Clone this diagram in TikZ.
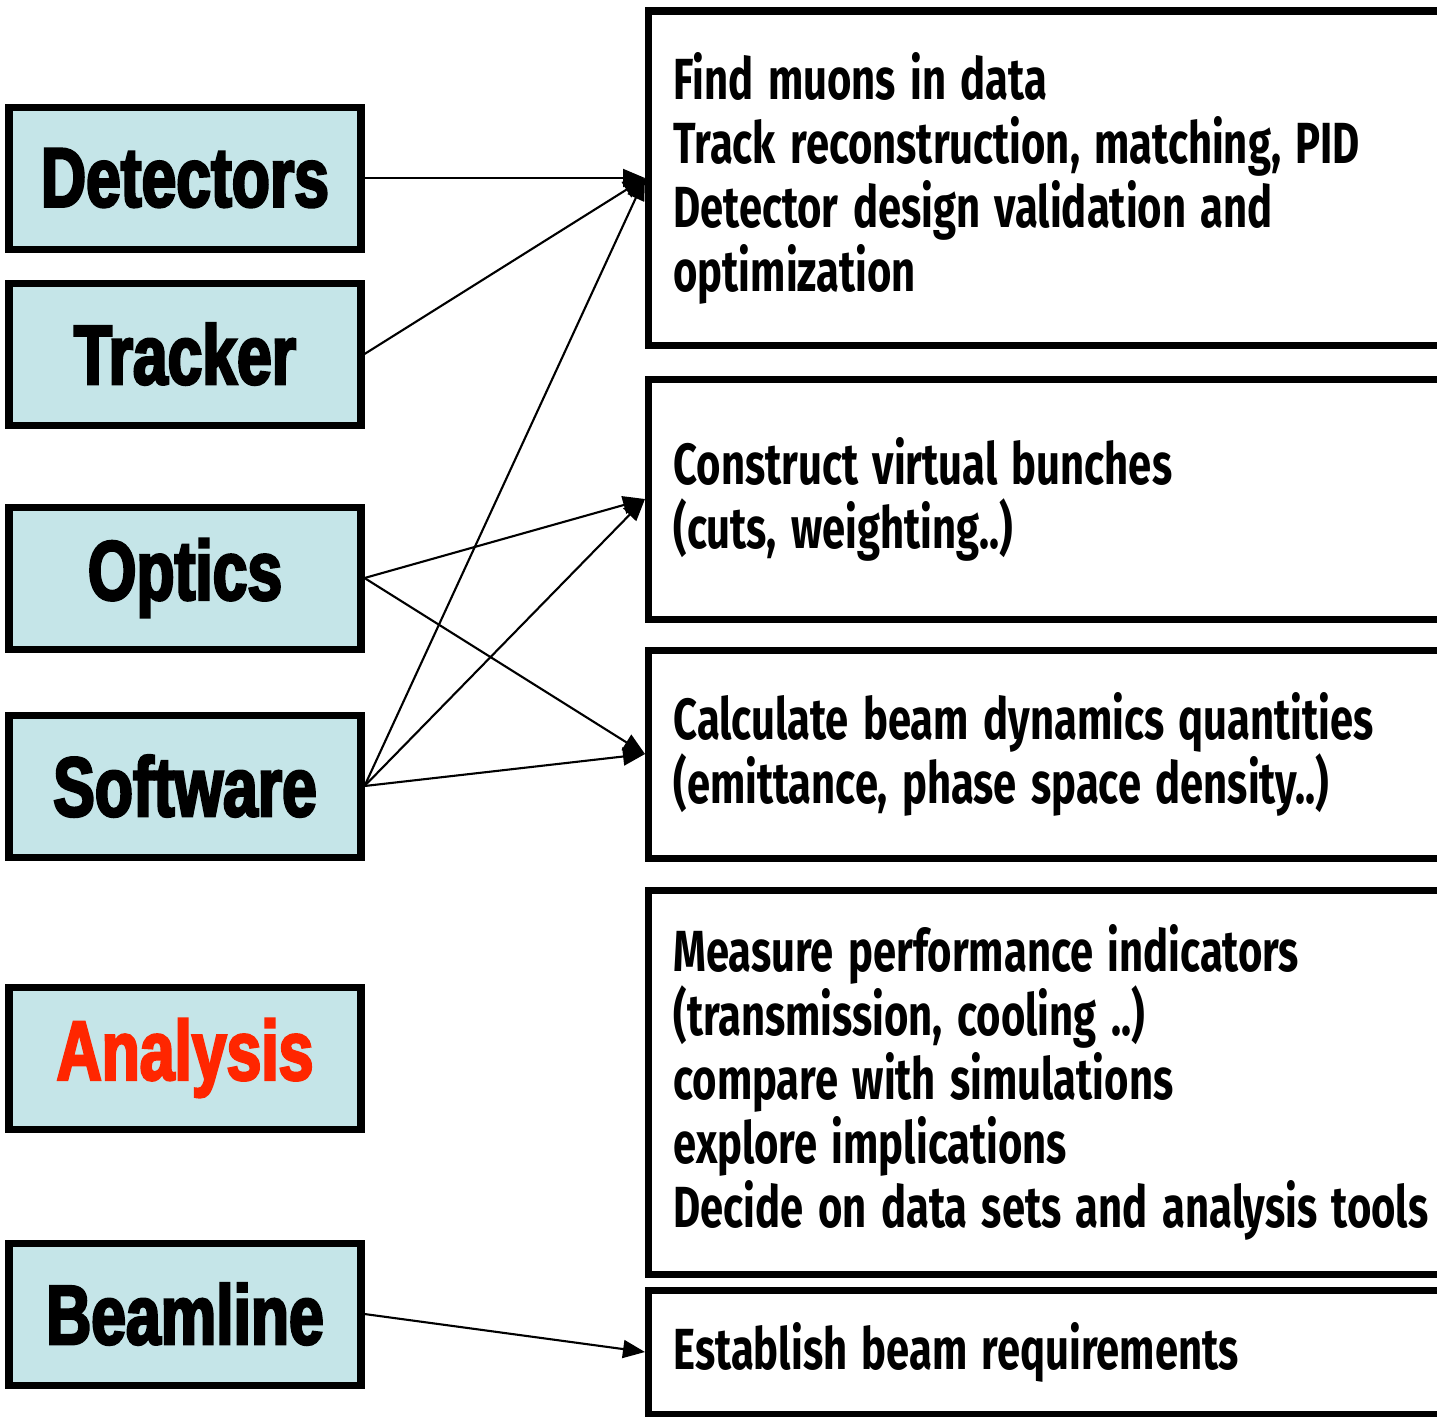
\documentclass[tikz,border=0pt]{standalone}
\usepackage{fontspec}
\usepackage{tikz}
\usetikzlibrary{positioning,arrows.meta}

\newfontfamily\labelfont[FakeStretch=0.74,FakeBold=3]{Liberation Sans}
\newfontfamily\notefont[FakeStretch=0.72]{Fira Sans}
\newcommand\tightspace{\spaceskip=0.25em plus 0.05em\relax}
\definecolor{boxcyan}{RGB}{197,229,232}
\definecolor{hotred}{RGB}{255,38,0}

\begin{document}
\begin{tikzpicture}[-{Triangle[length=0.22cm,width=0.18cm]},line width=0.6pt]
  \tikzstyle{topic}=[draw=black,line width=2pt,fill=boxcyan,minimum width=3.52cm,
                     minimum height=1.42cm,font=\labelfont\bfseries\fontsize{24}{28}\selectfont]
  \tikzstyle{task}=[draw=black,line width=2pt,text width=10cm,inner xsep=0.25cm,
                    align=left,anchor=west,font=\notefont\bfseries\fontsize{16.5}{18.2}\selectfont,
                    execute at begin node=\tightspace]

  \useasboundingbox (0,0) rectangle (14.37,-14.16);

  % topics on the left
  \node[topic] (det) at (1.85,-1.78)  {Detectors};
  \node[topic] (trk) at (1.85,-3.54)  {Tracker};
  \node[topic] (opt) at (1.85,-5.78)  {Optics};
  \node[topic] (sw)  at (1.85,-7.86)  {Software};
  \node[topic,text=hotred] (ana) at (1.85,-10.58) {Analysis};
  \node[topic] (bl)  at (1.85,-13.14) {Beamline};

  % tasks on the right
  \node[task,minimum height=3.34cm] (find)  at (6.45,-1.78)
    {Find muons in data\\Track reconstruction, matching, PID\\Detector design validation and\\optimization};
  \node[task,minimum height=2.40cm] (bunch) at (6.45,-4.99)
    {Construct virtual bunches\\(cuts, weighting..)};
  \node[task,minimum height=2.08cm] (calc)  at (6.45,-7.54)
    {Calculate beam dynamics quantities\\(emittance, phase space density..)};
  \node[task,minimum height=3.84cm] (meas)  at (6.45,-10.82)
    {Measure performance indicators\\(transmission, cooling ..)\\compare with simulations\\explore implications\\Decide on data sets and analysis tools};
  \node[task,minimum height=1.24cm] (req)   at (6.45,-13.52)
    {Establish beam requirements};

  \draw (det.east) -- (find.west);
  \draw (trk.east) -- (find.west);
  \draw (sw.east)  -- (find.west);
  \draw (opt.east) -- (bunch.west);
  \draw (sw.east)  -- (bunch.west);
  \draw (opt.east) -- (calc.west);
  \draw (sw.east)  -- (calc.west);
  \draw (bl.east)  -- (req.west);
\end{tikzpicture}
\end{document}
